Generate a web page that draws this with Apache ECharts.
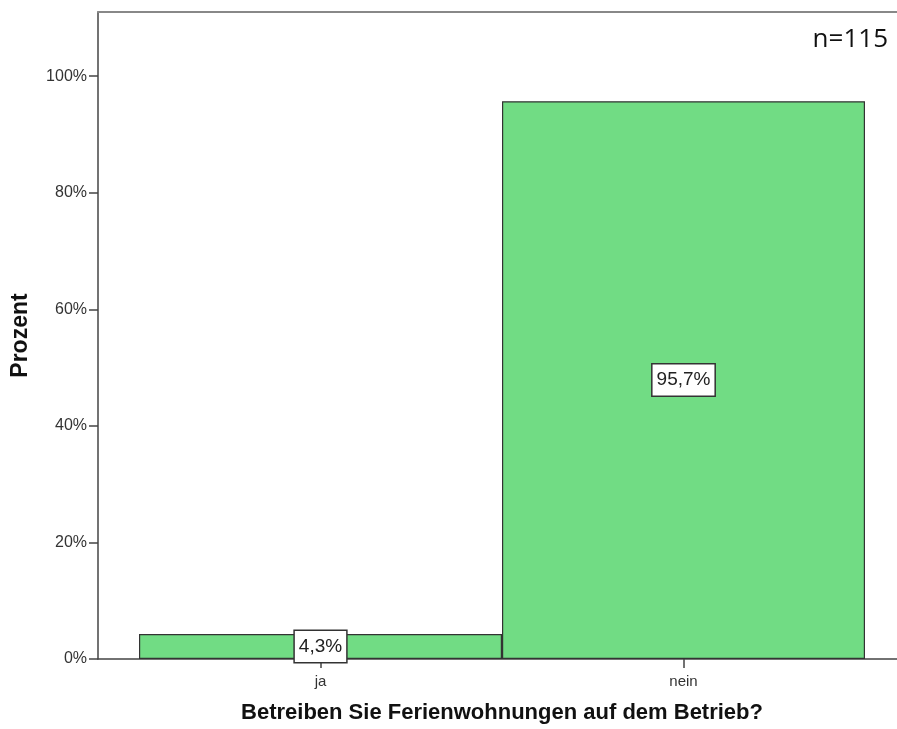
<!DOCTYPE html>
<html>
<head>
<meta charset="utf-8">
<script src="https://cdn.jsdelivr.net/npm/echarts@6/dist/echarts.min.js"></script>
<style>html,body{margin:0;padding:0;background:#fff}#c{width:897px;height:729px}</style>
</head>
<body>
<div id="c"></div>
<script>
const categories = ['ja', 'nein'];
const percentValues = [4.3, 95.7];
const yTicks = [0, 20, 40, 60, 80, 100];
const sampleNote = 'n=115';
const xTitle = 'Betreiben Sie Ferienwohnungen auf dem Betrieb?';
const yTitle = 'Prozent';

const chart = echarts.init(document.getElementById('c'));
const fmt = v => v.toFixed(1).replace('.', ',') + '%';
chart.setOption({
  animation: false,
  backgroundColor: '#fff',
  title: {
    text: sampleNote, right: 4, top: 22,
    textStyle: { fontFamily: 'Open Sans', fontSize: 26, fontWeight: 'normal', color: '#111' }
  },
  grid: [
    { left: 98, top: 12, width: 900, bottom: 70 },
    { left: 139, right: 32, top: 12, bottom: 70 }
  ],
  xAxis: [
    { gridIndex: 0, type: 'value', min: 0, max: 1, axisLine: { show: true, onZero: false, lineStyle: { color: '#444', width: 1.5 } },
      axisTick: { show: false }, axisLabel: { show: false }, splitLine: { show: false } },
    { gridIndex: 0, type: 'value', min: 0, max: 1, position: 'top', axisLine: { show: true, onZero: false, lineStyle: { color: '#888', width: 2 } },
      axisTick: { show: false }, axisLabel: { show: false }, splitLine: { show: false } },
    { gridIndex: 1, type: 'category', data: categories, boundaryGap: true,
      axisLine: { show: false }, axisTick: { show: true, alignWithLabel: true, length: 9, lineStyle: { color: '#444', width: 1.5 } },
      axisLabel: { fontFamily: 'Liberation Sans', fontSize: 15, color: '#333', margin: 15 },
      name: xTitle, nameLocation: 'middle', nameGap: 43, nameMoveOverlap: false,
      nameTextStyle: { fontFamily: 'Liberation Sans', fontSize: 22, fontWeight: 'bold', color: '#111', verticalAlign: 'top', lineHeight: 22 } }
  ],
  yAxis: [
    { gridIndex: 0, type: 'value', min: yTicks[0], max: 111, interval: yTicks[1] - yTicks[0],
      axisLine: { show: true, lineStyle: { color: '#444', width: 1.5 } },
      axisTick: { show: true, length: 9, lineStyle: { color: '#444', width: 1.5 } },
      axisLabel: { formatter: '{value}%', showMaxLabel: false, fontFamily: 'Liberation Sans', fontSize: 16, color: '#333', margin: 11 },
      splitLine: { show: false },
      name: yTitle, nameLocation: 'middle', nameGap: 66, nameMoveOverlap: false,
      nameTextStyle: { fontFamily: 'Liberation Sans', fontSize: 23, fontWeight: 'bold', color: '#111' } },
    { gridIndex: 1, type: 'value', min: 0, max: 111, show: false, splitLine: { show: false } }
  ],
  series: [{
    type: 'bar', xAxisIndex: 2, yAxisIndex: 1,
    data: percentValues, barWidth: '100%', barCategoryGap: 0,
    itemStyle: { color: '#71dc84', borderColor: '#333', borderWidth: 1.2 },
    label: {
      show: true, position: 'inside', formatter: p => fmt(p.value),
      fontFamily: 'Liberation Sans', fontSize: 19, lineHeight: 20, color: '#222',
      backgroundColor: '#fff', borderColor: '#333', borderWidth: 1.5, padding: [6, 4, 5, 4]
    }
  }]
});
</script>
</body>
</html>
